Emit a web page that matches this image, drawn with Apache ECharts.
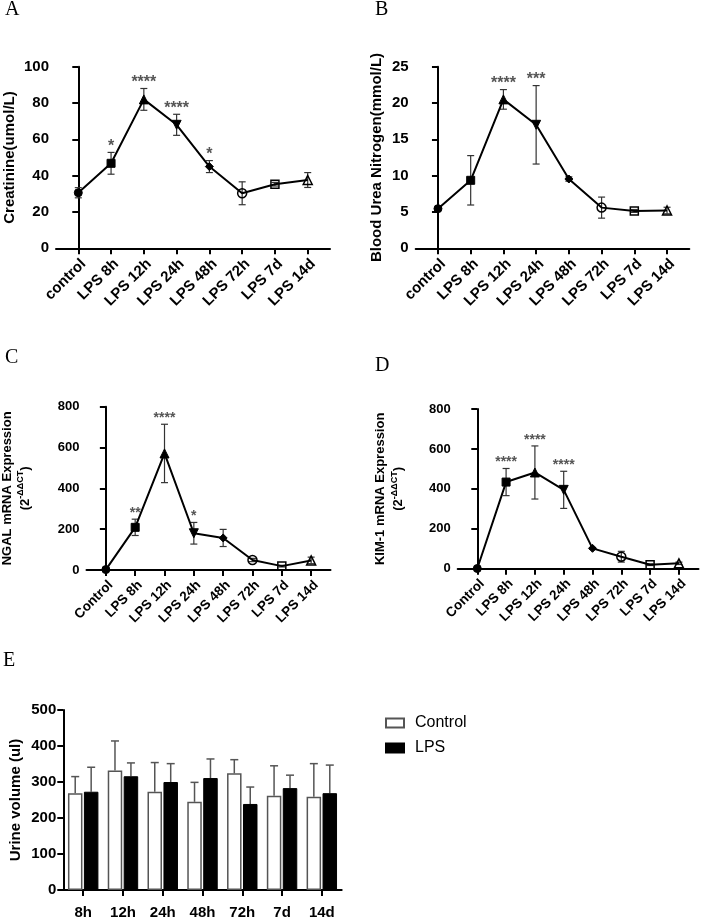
<!DOCTYPE html>
<html><head><meta charset="utf-8">
<script src="https://cdn.jsdelivr.net/npm/echarts@6/dist/echarts.min.js"></script>
<style>html,body{margin:0;padding:0;background:#fff}#c{width:701px;height:920px}</style>
</head><body><div id="c"></div>
<script>
// ---------- data ----------
const groupsLower = ['control','LPS 8h','LPS 12h','LPS 24h','LPS 48h','LPS 72h','LPS 7d','LPS 14d'];
const groupsUpper = ['Control','LPS 8h','LPS 12h','LPS 24h','LPS 48h','LPS 72h','LPS 7d','LPS 14d'];

const creatMean = [30.6, 46.8, 82.0, 68.0, 45.0, 30.3, 35.3, 37.6];
const creatSD   = [2.8, 6.0, 6.0, 5.8, 3.3, 6.3, 1.0, 4.1];
const creatSig  = ['', '*', '****', '****', '*', '', '', ''];

const bunMean = [5.46, 9.36, 20.5, 17.0, 9.54, 5.6, 5.14, 5.2];
const bunSD   = [0.15, 3.4, 1.35, 5.4, 0.3, 1.45, 0.2, 0.45];
const bunSig  = ['', '', '****', '***', '', '', '', ''];

const ngalMean = [2, 209, 571, 180, 157, 49, 19, 47];
const ngalSD   = [1, 40, 143, 53, 42, 8, 4, 16];
const ngalSig  = ['', '**', '****', '*', '', '', '', ''];

const kimMean = [1, 434, 482, 395, 102, 60, 20, 27];
const kimSD   = [1, 68, 133, 93, 4, 27, 4, 6];
const kimSig  = ['', '****', '****', '****', '', '', '', ''];

const urineCats   = ['8h','12h','24h','48h','72h','7d','14d'];
const urineCtrl   = [269, 332, 273, 245, 324, 262, 259];
const urineCtrlSD = [46, 82, 81, 54, 38, 83, 92];
const urineLps    = [273, 316, 300, 311, 239, 283, 269];
const urineLpsSD  = [68, 37, 51, 53, 47, 36, 78];

// ---------- styling ----------
const FONT = 'Liberation Sans';
const markerDefs = [
  {symbol:'circle', size:8, filled:true},
  {symbol:'rect', size:8, filled:true},
  {symbol:'triangle', size:9, filled:true},
  {symbol:'triangle', size:9, filled:true, rotate:180},
  {symbol:'diamond', size:8, filled:true},
  {symbol:'circle', size:9, filled:false},
  {symbol:'rect', size:8, filled:false},
  {symbol:'triangle', size:9, filled:false}
];

const panels = [
  {cats:groupsLower, mean:creatMean, sd:creatSD, sig:creatSig, max:100, interval:20,
   name:'Creatinine(umol/L)', grid:{left:56, top:66.7, width:274, height:181.6},
   yfs:15, xfs:15, nfs:15, sfs:16, nameGap:39, xmin:-0.68, xmax:7.68, rich:false},
  {cats:groupsLower, mean:bunMean, sd:bunSD, sig:bunSig, max:25, interval:5,
   name:'Blood Urea Nitrogen(mmol/L)', grid:{left:415.7, top:66.7, width:273.6, height:181.6},
   yfs:15, xfs:15, nfs:15, sfs:16, nameGap:31, xmin:-0.68, xmax:7.68, rich:false},
  {cats:groupsUpper, mean:ngalMean, sd:ngalSD, sig:ngalSig, max:800, interval:200,
   name:'{t|NGAL mRNA Expression}\n{t|(2}{s|-ΔΔCT}{t|)}', grid:{left:85, top:406.7, width:245.5, height:163.3},
   yfs:13, xfs:13.5, nfs:13, sfs:14, nameGap:52, xmin:-0.66, xmax:7.66, rich:true},
  {cats:groupsUpper, mean:kimMean, sd:kimSD, sig:kimSig, max:800, interval:200,
   name:'{t|KIM-1 mRNA Expression}\n{t|(2}{s|-ΔΔCT}{t|)}', grid:{left:457.7, top:409, width:240.8, height:159.7},
   yfs:13, xfs:13.5, nfs:13, sfs:14, nameGap:50, xmin:-0.68, xmax:7.68, rich:true}
];

const grids = [], xAxes = [], yAxes = [], series = [];
const idx8 = [0,1,2,3,4,5,6,7];

panels.forEach((p, k) => {
  grids.push(Object.assign({containLabel:false}, p.grid));
  xAxes.push({
    type:'value', gridIndex:k, min:p.xmin, max:p.xmax,
    axisLine:{show:true, onZero:false, lineStyle:{color:'#000', width:2}},
    axisTick:{show:true, customValues:idx8, length:6, lineStyle:{color:'#000', width:2}},
    axisLabel:{show:true, customValues:idx8, formatter:v => p.cats[Math.round(v)], rotate:45,
      verticalAlign:'top', align:'right',
      fontFamily:FONT, fontWeight:'bold', fontSize:p.xfs, color:'#000', margin:8},
    splitLine:{show:false}
  });
  const nameStyle = p.rich ? {
      rich:{
        t:{fontFamily:FONT, fontWeight:'bold', fontSize:p.nfs, color:'#000', lineHeight:18},
        s:{fontFamily:FONT, fontWeight:'bold', fontSize:9, color:'#000', lineHeight:18, verticalAlign:'top'}
      }, align:'center'
    } : {fontFamily:FONT, fontWeight:'bold', fontSize:p.nfs, color:'#000'};
  yAxes.push({
    type:'value', gridIndex:k, min:0, max:p.max, interval:p.interval,
    name:p.name, nameLocation:'middle', nameGap:p.nameGap, nameTextStyle:nameStyle,
    axisLine:{show:true, lineStyle:{color:'#000', width:2}},
    axisTick:{show:true, length:6, lineStyle:{color:'#000', width:2}},
    axisLabel:{fontFamily:FONT, fontWeight:'bold', fontSize:p.yfs, color:'#000', margin:7},
    splitLine:{show:false}
  });
  // error bars
  series.push({
    type:'custom', xAxisIndex:k, yAxisIndex:k, z:2, clip:false, silent:true,
    data:p.mean.map((v,i) => [i, v, p.sd[i]]),
    renderItem:(params, api) => {
      const x = api.value(0), m = api.value(1), s = api.value(2);
      const hi = api.coord([x, m + s]), lo = api.coord([x, m - s]);
      const w = 3.5;
      const st = {stroke:'#333', lineWidth:1.2};
      return {type:'group', children:[
        {type:'line', shape:{x1:hi[0], y1:hi[1], x2:lo[0], y2:lo[1]}, style:st},
        {type:'line', shape:{x1:hi[0]-w, y1:hi[1], x2:hi[0]+w, y2:hi[1]}, style:st},
        {type:'line', shape:{x1:lo[0]-w, y1:lo[1], x2:lo[0]+w, y2:lo[1]}, style:st}
      ]};
    }
  });
  // mean line with markers
  series.push({
    type:'line', xAxisIndex:k, yAxisIndex:k, z:3, silent:true,
    lineStyle:{color:'#000', width:2},
    data:p.mean.map((v,i) => {
      const d = markerDefs[i];
      return {value:[i, v], symbol:d.symbol, symbolSize:d.size, symbolRotate:d.rotate || 0,
        itemStyle: d.filled ? {color:'#000', borderColor:'#000', borderWidth:1}
                            : {color:'rgba(0,0,0,0)', borderColor:'#000', borderWidth:1.5}};
    })
  });
  // significance stars
  series.push({
    type:'custom', xAxisIndex:k, yAxisIndex:k, z:4, clip:false, silent:true,
    data:p.mean.map((v,i) => [i, v + p.sd[i]]),
    renderItem:(params, api) => {
      const txt = p.sig[params.dataIndex];
      if (!txt) return null;
      const pt = api.coord([api.value(0), api.value(1)]);
      return {type:'text', x:pt[0], y:pt[1] - 6,
        style:{text:txt, fill:'#555', font:'bold ' + p.sfs + 'px "' + FONT + '"', align:'center', verticalAlign:'middle'}};
    }
  });
});

// ---------- panel E ----------
const kE = 4;
grids.push({left:63.3, top:710, width:278.4, height:185.7, containLabel:false});
xAxes.push({
  type:'category', gridIndex:kE, data:urineCats,
  axisLine:{show:true, onZero:false, lineStyle:{color:'#000', width:2}},
  axisTick:{show:true, alignWithLabel:true, length:6, lineStyle:{color:'#000', width:2}},
  axisLabel:{fontFamily:FONT, fontWeight:'bold', fontSize:15, color:'#000', margin:15}
});
yAxes.push({
  type:'value', gridIndex:kE, min:0, max:500, interval:100,
  name:'Urine volume (ul)', nameLocation:'middle', nameGap:40,
  nameTextStyle:{fontFamily:FONT, fontWeight:'bold', fontSize:15, color:'#000'},
  axisLine:{show:true, lineStyle:{color:'#000', width:2}},
  axisTick:{show:true, length:6, lineStyle:{color:'#000', width:2}},
  axisLabel:{fontFamily:FONT, fontWeight:'bold', fontSize:15, color:'#000', margin:7},
  splitLine:{show:false}
});
const BW = 14.5, GAPP = 0.1;
series.push({
  type:'bar', name:'Control', xAxisIndex:kE, yAxisIndex:kE, data:urineCtrl, barWidth:BW, barGap:'10%', z:2,
  itemStyle:{color:'#fff', borderColor:'#555', borderWidth:1.5}
});
series.push({
  type:'bar', name:'LPS', xAxisIndex:kE, yAxisIndex:kE, data:urineLps, barWidth:BW, barGap:'10%', z:2,
  itemStyle:{color:'#000', borderColor:'#000', borderWidth:1}
});
function barErr(means, sds, sign) {
  return {
    type:'custom', xAxisIndex:kE, yAxisIndex:kE, z:1, clip:false, silent:true,
    data:means.map((v,i) => [i, v, sds[i]]),
    renderItem:(params, api) => {
      const off = sign * (BW * (1 + GAPP)) / 2;
      const top = api.coord([api.value(0), api.value(1) + api.value(2)]);
      const base = api.coord([api.value(0), api.value(1)]);
      const x = top[0] + off, w = 4;
      const st = {stroke:'#555', lineWidth:1.5};
      return {type:'group', children:[
        {type:'line', shape:{x1:x, y1:top[1], x2:x, y2:base[1]}, style:st},
        {type:'line', shape:{x1:x-w, y1:top[1], x2:x+w, y2:top[1]}, style:st}
      ]};
    }
  };
}
series.push(barErr(urineCtrl, urineCtrlSD, -1));
series.push(barErr(urineLps, urineLpsSD, 1));

const option = {
  backgroundColor:'#fff',
  animation:false,
  grid:grids, xAxis:xAxes, yAxis:yAxes, series:series,
  legend:{
    data:['Control','LPS'], orient:'vertical', left:385, top:715, padding:0,
    icon:'rect', itemWidth:18, itemHeight:9, itemGap:9,
    textStyle:{fontFamily:FONT, fontSize:16, color:'#000', padding:[0,0,0,6]}
  },
  graphic:[
    {type:'text', left:5, top:0, style:{text:'A', font:'20px "Liberation Serif"', fill:'#000'}},
    {type:'text', left:375, top:0, style:{text:'B', font:'20px "Liberation Serif"', fill:'#000'}},
    {type:'text', left:5, top:348, style:{text:'C', font:'20px "Liberation Serif"', fill:'#000'}},
    {type:'text', left:375, top:356, style:{text:'D', font:'20px "Liberation Serif"', fill:'#000'}},
    {type:'text', left:3, top:651, style:{text:'E', font:'20px "Liberation Serif"', fill:'#000'}}
  ]
};
const chart = echarts.init(document.getElementById('c'));
chart.setOption(option);
</script>
</body></html>
